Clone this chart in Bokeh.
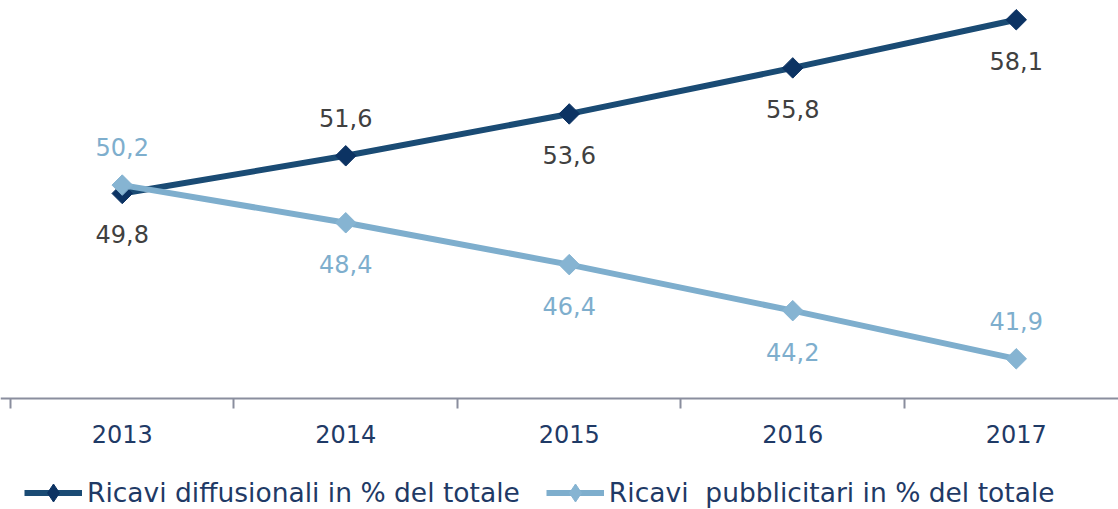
import math
from bokeh.plotting import figure
from bokeh.models import ColumnDataSource, FixedTicker, Range1d, Legend, LegendItem, LabelSet
from bokeh.core.properties import value
from bokeh.embed import file_html
from bokeh.resources import INLINE

years = ["2013", "2014", "2015", "2016", "2017"]
diffusionali = [49.8, 51.6, 53.6, 55.8, 58.1]
pubblicitari = [50.2, 48.4, 46.4, 44.2, 41.9]
# label side: +1 above, -1 below
diff_side = [-1, 1, -1, -1, -1]
pubb_side = [1, -1, -1, -1, 1]

FONT = "DejaVu Sans"
FS = "24px"
DARK_LINE = "#1a4b74"
DARK_MARK = "#0c3363"
LIGHT_LINE = "#7eaecd"
LIGHT_MARK = "#86b4d2"
NAVY_TXT = "#1f3a66"

xs = list(range(len(years)))

def fmt(v):
    return f"{v:.1f}".replace(".", ",")

def offs(sides):
    return [38 if s > 0 else -41 for s in sides]

src_d = ColumnDataSource(dict(x=xs, y=diffusionali, lab=[fmt(v) for v in diffusionali],
                              off=offs(diff_side)))
src_p = ColumnDataSource(dict(x=xs, y=pubblicitari, lab=[fmt(v) for v in pubblicitari],
                              off=offs(pubb_side)))

p = figure(width=1118, height=509, output_backend="svg", toolbar_location=None,
           x_range=Range1d(-0.5447, 4.4575), y_range=Range1d(34.70, 59.02),
           y_axis_location=None, min_border_left=0, min_border_right=0,
           min_border_top=0, min_border_bottom=0)
p.outline_line_color = None
p.grid.visible = False
p.background_fill_color = "white"
p.border_fill_color = "white"

ld = p.line("x", "y", source=src_d, line_color=DARK_LINE, line_width=6)
# legend proxy diamond (hidden under the rotated square)
pd = p.scatter("x", "y", source=src_d, marker="diamond", size=18,
               fill_color=DARK_MARK, line_color=DARK_MARK)
sd = p.scatter("x", "y", source=src_d, marker="square", size=14.5, angle=math.pi / 4,
               fill_color=DARK_MARK, line_color=DARK_MARK)
lp = p.line("x", "y", source=src_p, line_color=LIGHT_LINE, line_width=6)
pp = p.scatter("x", "y", source=src_p, marker="diamond", size=18,
               fill_color=LIGHT_MARK, line_color=LIGHT_MARK)
sp = p.scatter("x", "y", source=src_p, marker="square", size=14.5, angle=math.pi / 4,
               fill_color=LIGHT_MARK, line_color=LIGHT_MARK)

p.add_layout(LabelSet(x="x", y="y", text="lab", source=src_d, y_offset="off",
                      text_align="center", text_baseline="middle", text_font=value(FONT),
                      text_font_size=FS, text_color="#404040"))
p.add_layout(LabelSet(x="x", y="y", text="lab", source=src_p, y_offset="off",
                      text_align="center", text_baseline="middle", text_font=value(FONT),
                      text_font_size=FS, text_color=LIGHT_LINE))

ax = p.xaxis[0]
ax.fixed_location = 40
ax.ticker = FixedTicker(ticks=xs, minor_ticks=[-0.5, 0.5, 1.5, 2.5, 3.5, 4.5])
ax.major_label_overrides = {i: y for i, y in enumerate(years)}
ax.major_tick_line_color = None
ax.major_tick_out = 10
ax.major_tick_in = 0
ax.minor_tick_out = 10
ax.minor_tick_in = 0
ax.minor_tick_line_color = "#8a8e9e"
ax.minor_tick_line_width = 2
ax.axis_line_color = "#8a8e9e"
ax.axis_line_width = 2
ax.major_label_standoff = 16
ax.major_label_text_font = FONT
ax.major_label_text_font_size = FS
ax.major_label_text_color = NAVY_TXT

legend = Legend(items=[
    LegendItem(label="Ricavi diffusionali in % del totale", renderers=[ld, pd]),
    LegendItem(label="Ricavi  pubblicitari in % del totale", renderers=[lp, pp]),
], orientation="horizontal", location=(24, -6))
legend.label_text_font = FONT
legend.label_text_font_size = "26.5px"
legend.label_text_color = NAVY_TXT
legend.glyph_width = 58
legend.glyph_height = 45
legend.label_standoff = 5
legend.spacing = 26
legend.padding = 0
legend.margin = 0
legend.border_line_color = None
legend.background_fill_alpha = 0
p.add_layout(legend, "center")

open("out.html", "w").write(file_html(p, INLINE))
